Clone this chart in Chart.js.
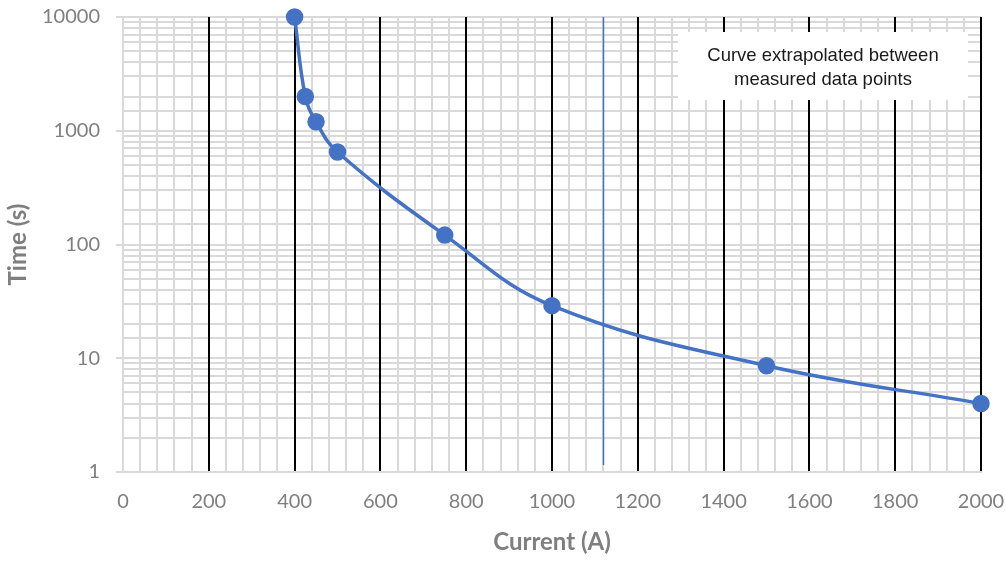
<!DOCTYPE html>
<html>
<head>
<meta charset="utf-8">
<script src="https://cdn.jsdelivr.net/npm/chart.js@4/dist/chart.umd.min.js"></script>
<style>
  html, body { margin: 0; padding: 0; background: #fff; }
  #wrap { width: 1006px; height: 561px; position: relative; }
</style>
</head>
<body>
<div id="wrap"><canvas id="curveChart"></canvas></div>
<script>
// measured points
const currents = [400, 425, 450, 500, 750, 1000, 1500, 2000];
const times = [10000, 2000, 1200, 650, 121, 29, 8.6, 4];

// thin blue marker line
const markerCurrent = 1120;
const markerTimes = [1.15, 10000];

const xMin = 0, xMax = 2000, xStep = 40, xLabelStep = 200;
const yMin = 1, yMax = 10000;
const noteLines = ["Curve extrapolated between", "measured data points"];

const grey = "#d9d9d9";
const labelGrey = "#7f7f7f";
const blue = "#4472c4";

const noteBox = {
    id: "noteBox",
    afterDatasetsDraw(chart) {
        const ctx = chart.ctx;
        const area = chart.chartArea;
        const x = area.right - 303, y = area.top + 15;
        ctx.save();
        ctx.fillStyle = "#fff";
        ctx.fillRect(x, y, 290, 68);
        ctx.fillStyle = "#1a1a1a";
        ctx.font = "18.5px 'Liberation Sans', Arial, sans-serif";
        ctx.textAlign = "center";
        ctx.textBaseline = "middle";
        noteLines.forEach((t, i) => ctx.fillText(t, x + 145, y + 24 + i * 24));
        ctx.restore();
    }
};

document.addEventListener("DOMContentLoaded", function () {
    const ctx = document.getElementById("curveChart").getContext("2d");

    new Chart(ctx, {
        type: "line",
        data: {
            datasets: [
                {
                    label: "Time",
                    data: currents.map((c, i) => ({ x: c, y: times[i] })),
                    borderColor: blue,
                    backgroundColor: blue,
                    borderWidth: 3.5,
                    pointRadius: 7,
                    pointHoverRadius: 7,
                    tension: 0.4,
                    clip: false,
                },
                {
                    label: "Marker",
                    data: markerTimes.map(t => ({ x: markerCurrent, y: t })),
                    borderColor: blue,
                    borderWidth: 1.5,
                    pointRadius: 0,
                    tension: 0,
                },
            ],
        },
        options: {
            responsive: true,
            maintainAspectRatio: false,
            animation: false,
            layout: { padding: { top: 17, right: 25 } },
            plugins: {
                legend: { display: false },
                tooltip: { enabled: false },
            },
            scales: {
                x: {
                    type: "linear",
                    min: xMin,
                    max: xMax,
                    afterFit: s => { s.height = 89; s.paddingLeft = 0; s.paddingRight = 0; },
                    border: { color: grey, width: 2 },
                    grid: {
                        z: -1,
                        drawTicks: false,
                        color: c => (c.tick && c.tick.value > 0 && c.tick.value % xLabelStep === 0) ? "#000" : grey,
                        lineWidth: 2,
                    },
                    ticks: {
                        stepSize: xStep,
                        autoSkip: false,
                        maxRotation: 0,
                        padding: 18,
                        color: labelGrey,
                        font: { family: "Lato", size: 20 },
                        callback: v => (v % xLabelStep === 0 ? String(v) : ""),
                    },
                    title: {
                        display: true,
                        text: "Current (A)",
                        color: labelGrey,
                        font: { family: "Lato", size: 24, weight: "bold" },
                        padding: { top: 2, bottom: 4 },
                    },
                },
                y: {
                    type: "logarithmic",
                    min: yMin,
                    max: yMax,
                    afterFit: s => { s.width = 123; s.paddingTop = 0; s.paddingBottom = 0; },
                    border: { color: grey, width: 2 },
                    grid: {
                        z: -2,
                        color: grey,
                        lineWidth: 2,
                        tickLength: 7,
                        tickColor: c => (c.tick && Number.isInteger(Math.log10(c.tick.value))) ? grey : "rgba(0,0,0,0)",
                    },
                    ticks: {
                        autoSkip: false,
                        padding: 16,
                        color: labelGrey,
                        font: { family: "Lato", size: 20 },
                        callback: v => (Number.isInteger(Math.log10(v)) ? String(v) : ""),
                    },
                    title: {
                        display: true,
                        text: "Time (s)",
                        color: labelGrey,
                        font: { family: "Lato", size: 24, weight: "bold" },
                        padding: { top: 4, bottom: 2 },
                    },
                },
            },
        },
        plugins: [noteBox],
    });
});
</script>
</body>
</html>
